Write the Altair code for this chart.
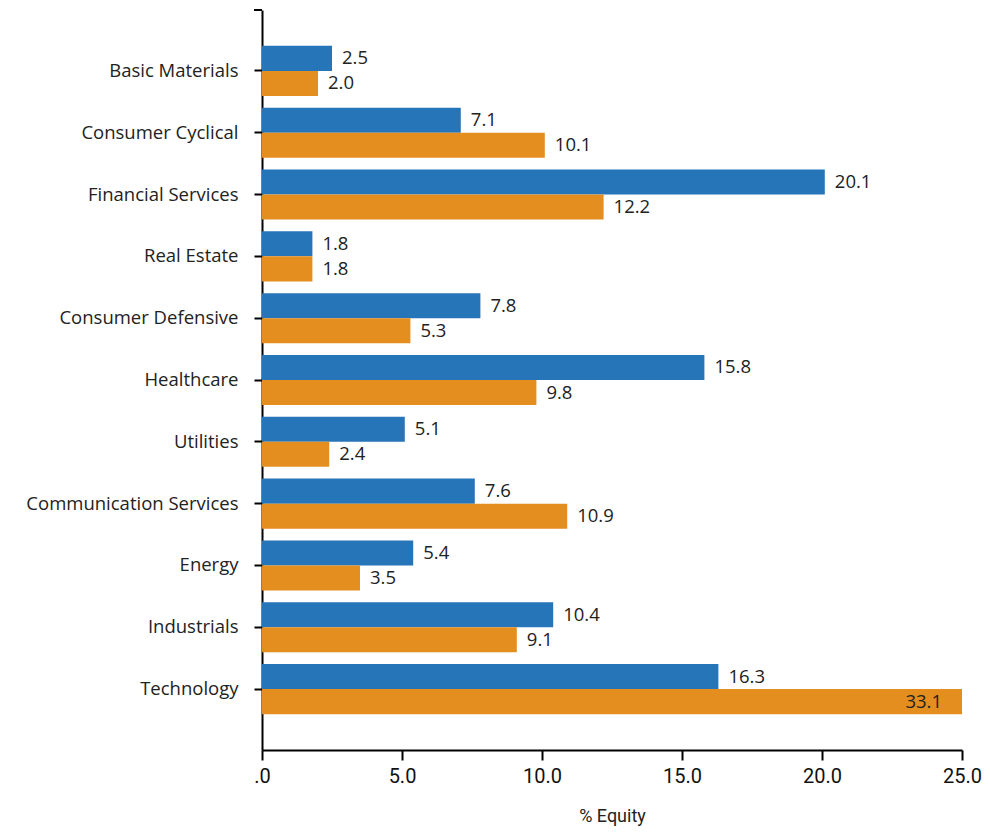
import altair as alt
import pandas as pd

categories = ["Basic Materials", "Consumer Cyclical", "Financial Services", "Real Estate",
              "Consumer Defensive", "Healthcare", "Utilities", "Communication Services",
              "Energy", "Industrials", "Technology"]
series_names = ["Portfolio", "Benchmark"]
portfolio = [2.5, 7.1, 20.1, 1.8, 7.8, 15.8, 5.1, 7.6, 5.4, 10.4, 16.3]
benchmark = [2.0, 10.1, 12.2, 1.8, 5.3, 9.8, 2.4, 10.9, 3.5, 9.1, 33.1]
colors = ["#2775b9", "#e38e1f"]
x_ticks = [0, 5, 10, 15, 20, 25]

rows = []
for c, a, b in zip(categories, portfolio, benchmark):
    rows.append({"sector": c, "series": series_names[0], "value": a})
    rows.append({"sector": c, "series": series_names[1], "value": b})
df = pd.DataFrame(rows)

FONT = "Open Sans"
NARROW = "Roboto"

y_enc = alt.Y("sector:N", sort=categories,
              scale=alt.Scale(paddingInner=0.19, paddingOuter=0.58),
              axis=alt.Axis(title=None, domainColor="black", domainWidth=2,
                            tickColor="black", tickWidth=2, tickSize=8,
                            labelFont=FONT, labelFontSize=18.5, labelColor="#222222",
                            labelPadding=16, labelLimit=400))
yoff = alt.YOffset("series:N", sort=series_names, scale=alt.Scale(paddingInner=0, paddingOuter=0))
x_scale = alt.Scale(domain=[0, 25], clamp=True, nice=False)

base = alt.Chart(df)

bars = base.mark_bar().encode(
    y=y_enc,
    yOffset=yoff,
    x=alt.X("value:Q", scale=x_scale,
            axis=alt.Axis(values=x_ticks, title="% Equity", grid=False,
                          domainColor="black", domainWidth=2,
                          tickColor="black", tickWidth=2, tickSize=10,
                          labelFont=NARROW, labelFontSize=20, labelColor="#111111",
                          labelPadding=6, labelFlush=False, labelOverlap=False,
                          labelExpr="datum.value == 0 ? '.0' : format(datum.value, '.1f')",
                          titleFont=NARROW, titleFontSize=18, titleColor="#222222",
                          titleFontWeight="normal", titleY=57, titleBaseline="top")),
    color=alt.Color("series:N", sort=series_names,
                    scale=alt.Scale(domain=series_names, range=colors), legend=None),
)

labels_out = base.transform_filter("datum.value <= 25").mark_text(
    align="left", baseline="middle", dx=10, font=FONT, fontSize=18.5, color="#222222"
).encode(
    y=alt.Y("sector:N", sort=categories),
    yOffset=alt.YOffset("series:N", sort=series_names),
    x=alt.X("value:Q", scale=x_scale),
    text=alt.Text("value:Q", format=".1f"),
)

labels_in = base.transform_filter("datum.value > 25").mark_text(
    align="right", baseline="middle", dx=-20, font=FONT, fontSize=18.5, color="#222222"
).encode(
    y=alt.Y("sector:N", sort=categories),
    yOffset=alt.YOffset("series:N", sort=series_names),
    x=alt.X("value:Q", scale=x_scale),
    text=alt.Text("value:Q", format=".1f"),
)

cap = alt.Chart(pd.DataFrame({"a": [0]})).mark_rule(color="black", strokeWidth=2).encode(
    x=alt.value(-8), x2=alt.value(0), y=alt.value(0)
)

chart = alt.layer(bars, labels_out, labels_in, cap).properties(
    width=700, height=740,
    autosize=alt.AutoSizeParams(type="none"),
    padding={"left": 254, "top": 2, "right": 20, "bottom": 76},
).configure_view(stroke=None)

chart.save("out.html", embed_options={"renderer": "svg", "actions": False})
